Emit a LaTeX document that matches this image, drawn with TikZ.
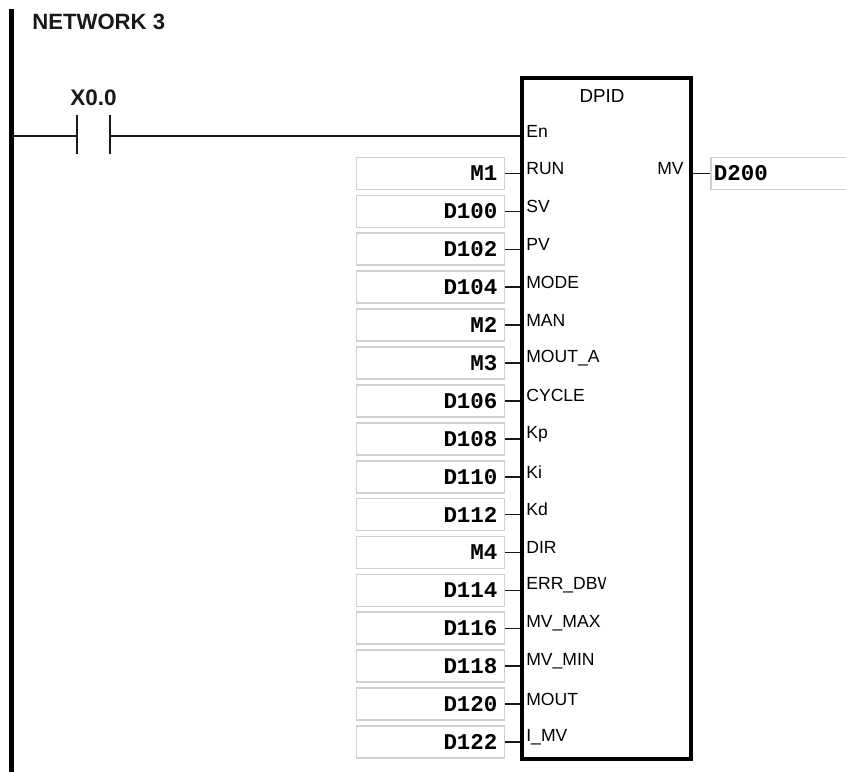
\documentclass[tikz,border=0pt]{standalone}
\usepackage{fontspec}
\setmainfont{Liberation Sans}
\setmonofont{Liberation Mono}
\usepackage{xcolor}
\definecolor{cellgrey}{RGB}{208,208,208}
\definecolor{wireblack}{RGB}{25,25,25}
\tikzset{
  valbox/.style={draw=cellgrey,line width=1pt,inner sep=0pt,minimum height=0.64cm,
    text width=2.96cm,align=right,font=\fontsize{12.8}{14}\ttfamily\bfseries},
  portlab/.style={anchor=west,inner sep=0pt,font=\fontsize{10}{12}\selectfont},
  wire/.style={wireblack,line width=0.9pt},
  plate/.style={wireblack,line width=1.4pt}
}
\begin{document}
\begin{tikzpicture}[x=0.02cm,y=-0.02cm]
        \clip (0,0) rectangle (846,772);
        % Power rail and heading
        \coordinate (railtop) at (11.5,9);
        \coordinate (railend) at (11.5,772);
        \draw[line width=2.6pt] (railtop) -- (railend);
        \node[anchor=west,inner sep=0pt,font=\fontsize{12.6}{14}\selectfont\bfseries,wireblack] (title) at (32,22) {NETWORK 3};

        % Contact
        \coordinate (rail) at (11.5,136);
        \coordinate (cleft) at (77,136);
        \coordinate (cright) at (110,136);
        \draw[plate] (77,115) -- (77,154);
        \draw[plate] (110,115) -- (110,154);
        \node[inner sep=0pt,font=\fontsize{12.8}{14}\selectfont\bfseries,wireblack] (contact) at (93.5,98) {X0.0};

        % Function block
        \node[draw,line width=2.2pt,minimum width=3.38cm,minimum height=13.62cm,inner sep=0pt] (dpid) at (606.5,418.5) {};
        \node[inner sep=0pt,font=\fontsize{10.7}{12}\selectfont] (blockname) at (602,96) {DPID};
        \draw[wire] (rail) -- (cleft);
        \draw[wire] (cright) -- (cright -| dpid.west);
        \node[portlab] (en) at (526,131) {En};

        % Inputs
        \foreach \i/\val/\port in {0/M1/RUN, 1/D100/SV, 2/D102/PV, 3/D104/MODE,
                            4/M2/MAN, 5/M3/MOUT\_A, 6/D106/CYCLE, 7/D108/Kp,
                            8/D110/Ki, 9/D112/Kd, 10/M4/DIR, 11/D114/,
                            12/D116/MV\_MAX, 13/D118/MV\_MIN, 14/D120/MOUT, 15/D122/I\_MV}{
          \node[valbox] (v\i) at (430.5,173.5+37.9*\i) {\val\kern0.14cm};
          \draw[wire] (v\i.east) -- (v\i -| dpid.west);
          \node[portlab] (p\i) at (526,168.5+37.9*\i) {\port};
        }
        \begin{scope}
          \clip (520,570) rectangle (605,610);
          \node[portlab] (perr) at (526,585.4) {ERR\_DBW};
        \end{scope}

        % Output
        \node[valbox,text width=3.2cm,align=left,anchor=west] (out) at (710,173.5) {\hspace*{0.06cm}D200};
        \node[anchor=east,inner sep=0pt,font=\fontsize{10}{12}\selectfont] (mv) at (684,168.5) {MV};
        \draw[wire] (out.west) -- (out -| dpid.east);
      \end{tikzpicture}
\end{document}
